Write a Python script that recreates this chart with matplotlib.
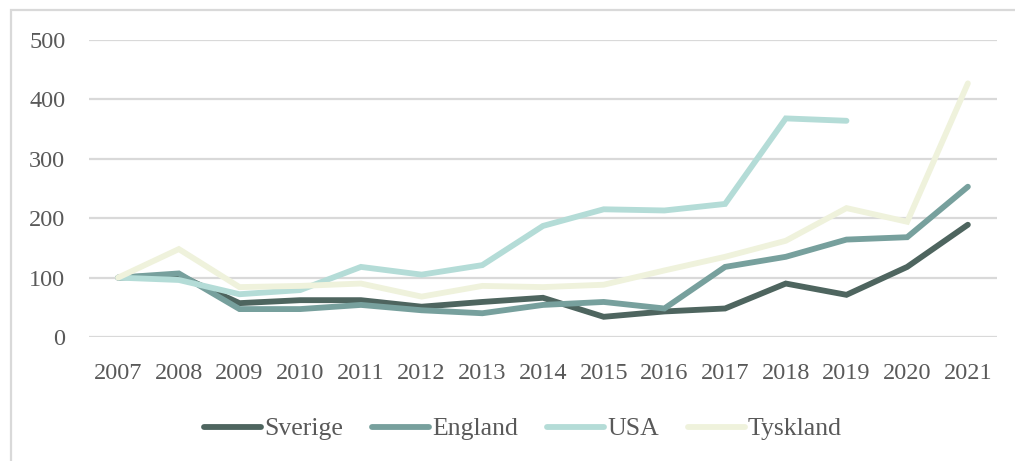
import numpy as np
from matplotlib import pyplot as plt
from matplotlib.patches import Rectangle

years = list(range(2007, 2022))
sverige = [100, 104, 57, 62, 62, 51, 59, 66, 34, 43, 48, 90, 71, 118, 189]
england = [100, 107, 47, 47, 54, 45, 40, 54, 59, 48, 118, 135, 164, 168, 253]
usa = [100, 96, 72, 79, 118, 105, 121, 187, 215, 213, 224, 368, 364, np.nan, np.nan]
tyskland = [100, 148, 84, 86, 90, 68, 86, 84, 88, 112, 135, 162, 217, 194, 427]

names = ["Sverige", "England", "USA", "Tyskland"]
colors = ["#4e655f", "#77a09d", "#b4dcd7", "#eff2dc"]

plt.rcParams["font.family"] = ["Liberation Serif", "DejaVu Serif"]
plt.rcParams["font.size"] = 17.5

fig = plt.figure(figsize=(10.15, 4.61), dpi=100)
ax = fig.add_axes([89 / 1015, 124 / 461, 908 / 1015, 297 / 461])

for name, vals, c in zip(names, [sverige, england, usa, tyskland], colors):
    ax.plot(years, vals, color=c, lw=4.2, label=name,
            solid_capstyle="round", solid_joinstyle="miter")

ax.set_xlim(2006.52, 2021.48)
ax.set_ylim(0, 500)
ax.set_xticks(years)
ax.set_yticks([0, 100, 200, 300, 400, 500])
ax.grid(axis="y", color="#d9d9d9", lw=1.6, zorder=0)
ax.set_axisbelow(True)
for s in ax.spines.values():
    s.set_visible(False)
ax.tick_params(length=0, colors="#595959", labelsize=17.5)
ax.tick_params(axis="y", pad=17)
ax.tick_params(axis="x", pad=19)

leg = fig.legend(loc="center", bbox_to_anchor=(0.515, 32 / 461), ncol=4,
                 frameon=False, fontsize=18.5, handlelength=2.25,
                 handletextpad=0.1, columnspacing=1.12, labelcolor="#595959")

fig.patches.append(Rectangle((11 / 1015, -0.1), 1.2, 0.1 + 451 / 461,
                             transform=fig.transFigure, fill=False,
                             edgecolor="#d9d9d9", lw=1.6))

fig.savefig("out.png", dpi=100)
